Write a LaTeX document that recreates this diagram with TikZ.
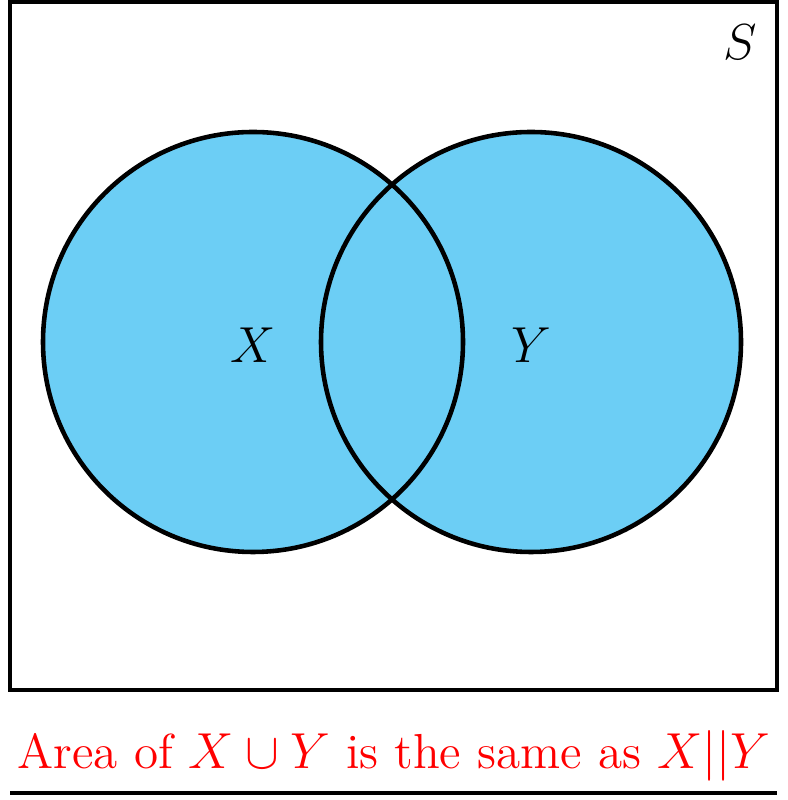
\documentclass[tikz,border=0pt]{standalone}
\usepackage{amsmath}
\usepackage{amssymb}
\usepackage{tikz}
\definecolor{insieme}{RGB}{108,206,245}
\tikzset{
  bordo/.style={line width=1.3pt},
  etichetta/.style={font=\fontsize{14}{16}\selectfont, inner sep=0pt}
}

\begin{document}
\begin{tikzpicture}
            \useasboundingbox (0,0) rectangle (7.87,8);
            %universo
            \draw[bordo] (0.1,1.1) rectangle (7.77,7.98);
            \node[etichetta] (S) at (7.40,7.58) {$S$};
            %insiemi
            \fill[insieme] (2.53,4.58) circle (2.1);
            \fill[insieme] (5.31,4.58) circle (2.1);
            \draw[bordo] (2.53,4.58) circle (2.1);
            \draw[bordo] (5.31,4.58) circle (2.1);
            \node[etichetta] (X) at (2.53,4.55) {$X$};
            \node[etichetta] (Y) at (5.31,4.55) {$Y$};
            %didascalia
            \node[etichetta, text=red] (area) at (3.94,0.44) {Area of $X \cup Y$ is the same as $X||Y$};
            \coordinate (sx) at (0.1,0.07);
            \coordinate (dx) at (7.77,0.07);
            \draw[bordo] (sx) -- (dx);
        \end{tikzpicture}
\end{document}
